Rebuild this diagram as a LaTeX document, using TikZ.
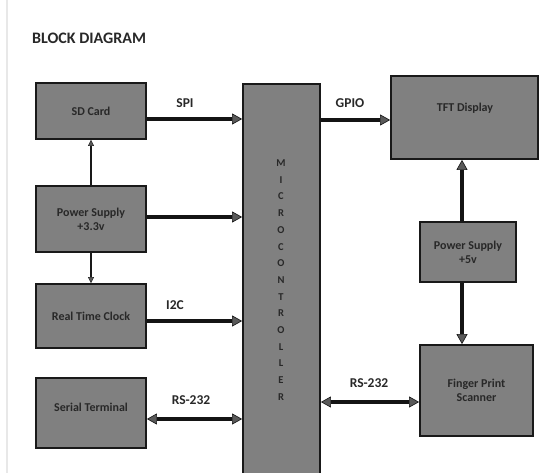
\documentclass[tikz,border=0pt]{standalone}
\usepackage{fontspec}
\setmainfont{Carlito}
\usetikzlibrary{arrows.meta,calc}
\definecolor{boxgray}{RGB}{128,128,128}
\definecolor{txtgray}{RGB}{40,40,40}
\begin{document}
\begin{tikzpicture}[x=1pt,y=-1pt,
  blk/.style={draw=black!90, line width=1.8pt, fill=boxgray, inner sep=0pt,
    text=txtgray, font=\fontsize{12}{14}\selectfont\bfseries, align=center},
  blktxt/.style={text=txtgray, font=\fontsize{12}{14}\selectfont\bfseries, align=center, inner sep=0pt},
  lbl/.style={text=txtgray, font=\fontsize{13.5}{14}\selectfont\bfseries, inner sep=0pt},
  bus/.style={line width=4.2pt, draw=black!92, -{Triangle[width=11pt,length=10pt,fill=black!65,line width=0.6pt]}},
  dbus/.style={line width=4.2pt, draw=black!92,
    {Triangle[width=11pt,length=10pt,fill=black!65,line width=0.6pt]}-{Triangle[width=11pt,length=10pt,fill=black!65,line width=0.6pt]}},
  thin/.style={line width=2.2pt, draw=black!90,
    -{Triangle[width=6pt,length=6pt,fill=black!65,line width=0.5pt]}}
]
\useasboundingbox[fill=white] (0,0) rectangle (540,473);
\draw[gray!18, line width=1.5pt] (7,0) -- (7,473);

\node[lbl, font=\fontsize{16}{17}\selectfont\bfseries, anchor=west] (title) at (32,38) {BLOCK DIAGRAM};

% left column
\node[blk, minimum width=110pt, minimum height=56pt] (sd) at (91,111) {SD Card};
\node[blk, minimum width=110pt, minimum height=66pt] (ps3) at (91,219) {Power Supply\\+3.3v};
\node[blk, minimum width=110pt, minimum height=64pt] (rtc) at (91,316) {Real Time Clock};
\node[blk, minimum width=110pt, minimum height=70pt] (st) at (91,413) {};
\node[blktxt] (sttxt) at (91,407) {Serial Terminal};

% microcontroller
\node[blk, minimum width=77pt, minimum height=400pt, anchor=north] (mcu) at (281.5,83) {};
\node[blktxt, font=\fontsize{10.5}{16.7}\selectfont\bfseries] (mcutxt) at (281,280)
  {M\\I\\C\\R\\O\\C\\O\\N\\T\\R\\O\\L\\L\\E\\R};

% right column
\node[blk, minimum width=147pt, minimum height=83pt] (tft) at (464.5,117.5) {};
\node[blktxt] (tfttxt) at (465,108) {TFT Display};
\node[blk, minimum width=96pt, minimum height=60pt] (ps5) at (468,252) {Power Supply\\+5v};
\node[blk, minimum width=113pt, minimum height=91pt] (fps) at (476.5,390.5) {Finger Print\\Scanner};

% connectors
\draw[bus] ([yshift=-8pt]sd.east) -- ([yshift=-8pt]sd.east -| mcu.west);
\draw[bus] ([yshift=2pt]ps3.east) -- ([yshift=2pt]ps3.east -| mcu.west);
\draw[bus] ([yshift=-5pt]rtc.east) -- ([yshift=-5pt]rtc.east -| mcu.west);
\draw[dbus] ([yshift=-6pt]st.east) -- ([yshift=-6pt]st.east -| mcu.west);
\draw[bus] ([yshift=-2.5pt]tft.west -| mcu.east) -- ([yshift=-2.5pt]tft.west);
\draw[dbus] ([yshift=-11.5pt]fps.west -| mcu.east) -- ([yshift=-11.5pt]fps.west);
\draw[bus] ([xshift=-6pt]ps5.north) -- ([xshift=-6pt]ps5.north |- tft.south);
\draw[bus] ([xshift=-6pt]ps5.south) -- ([xshift=-6pt]ps5.south |- fps.north);
\draw[thin] (ps3.north) -- (sd.south);
\draw[thin] (ps3.south) -- (rtc.north);

% labels
\node[lbl] (lspi) at (185,103) {SPI};
\node[lbl] (li2c) at (175,305) {I2C};
\node[lbl] (lrs1) at (191,400) {RS-232};
\node[lbl] (lgpio) at (350,103) {GPIO};
\node[lbl] (lrs2) at (369,383) {RS-232};
\end{tikzpicture}
\end{document}
